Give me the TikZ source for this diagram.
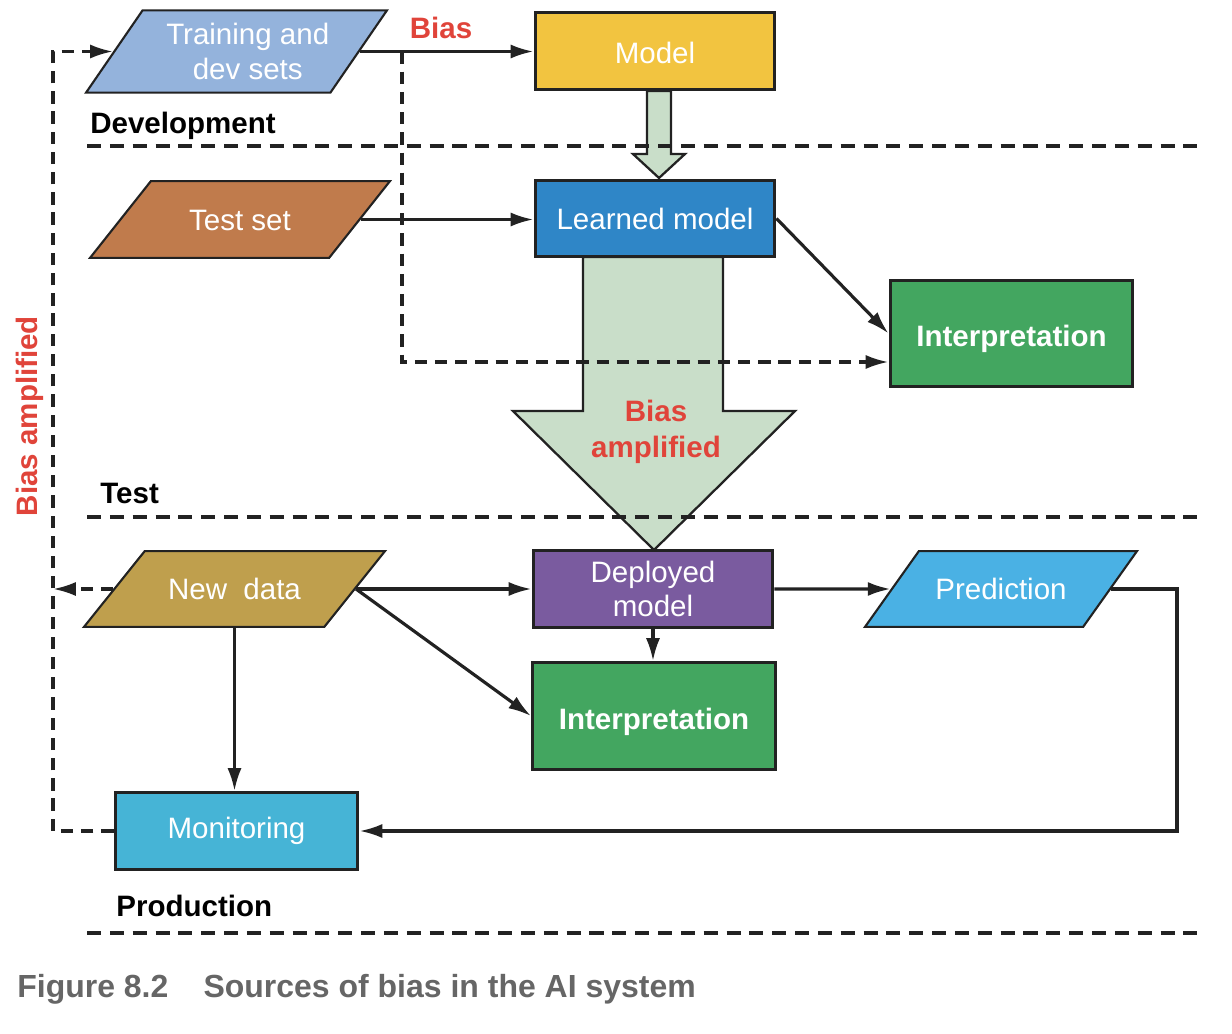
\documentclass[tikz,border=0pt]{standalone}
\usepackage{fontspec}
\setmainfont{Liberation Sans}
\usetikzlibrary{shapes.geometric,arrows.meta,backgrounds}

\definecolor{cTrain}{HTML}{94B3DC}
\definecolor{cTest}{HTML}{C07B4C}
\definecolor{cModel}{HTML}{F2C440}
\definecolor{cLearned}{HTML}{2F86C7}
\definecolor{cInterp}{HTML}{43A660}
\definecolor{cDeployed}{HTML}{7A5B9F}
\definecolor{cPredict}{HTML}{4AB1E4}
\definecolor{cNew}{HTML}{BF9F4D}
\definecolor{cMonitor}{HTML}{46B4D6}
\definecolor{cArrow}{HTML}{C9DEC9}
\definecolor{cRed}{HTML}{E0443A}
\definecolor{cCaption}{HTML}{666666}
\definecolor{cLine}{HTML}{222222}

\begin{document}
\begin{tikzpicture}
        [x=0.02cm, y=-0.02cm,
        box/.style={draw=cLine, line width=1.7pt, minimum width=4.8cm, minimum height=1.54cm,
          inner sep=0pt, text=white, align=center, font=\fontsize{16.8}{19.5}\selectfont},
        interp/.style={box, fill=cInterp, minimum width=4.86cm, minimum height=2.14cm,
          text height=15pt, text depth=0pt,
          font=\bfseries\fontsize{16.8}{19.5}\selectfont},
        data/.style={trapezium, trapezium left angle=55, trapezium right angle=125,
          trapezium stretches body, draw=cLine, line width=1.2pt, minimum width=6.02cm,
          inner xsep=0pt, inner ysep=15.3pt, text height=12.5pt, text depth=0pt,
          text=white, align=center, font=\fontsize{16.8}{19.5}\selectfont},
        conn/.style={cLine, line width=1.8pt, -{Latex[length=13pt,width=8pt]}},
        dconn/.style={conn, line width=1.8pt, dash pattern=on 7pt off 4.5pt},
        sep/.style={cLine, line width=1.8pt, dash pattern=on 8pt off 5pt},
        blockarrow/.style={fill=cArrow, draw=cLine, line width=1.3pt, line join=miter},
        lbl/.style={anchor=west, inner sep=0pt, font=\bfseries\fontsize{16.8}{19.5}\selectfont},
        redlbl/.style={inner sep=0pt, text=cRed, align=center,
          font=\bfseries\fontsize{16.8}{20.4}\selectfont}]

        \useasboundingbox (0,0) rectangle (1232,1034);

        % process boxes
        \node[box, fill=cModel, text height=14pt, text depth=0pt] (model) at (655,51) {Model};
        \node[box, fill=cLearned] (learned) at (655,218.5) {Learned model};
        \node[interp] (interp1) at (1011.5,333.5) {Interpretation};
        \node[box, fill=cDeployed] (deployed) at (653,589) {Deployed\\model};
        \node[interp] (interp2) at (654,716) {Interpretation};
        \node[box, fill=cMonitor, minimum width=4.86cm] (monitor) at (236.5,831) {Monitoring};

        % data sets
        \node[data, fill=cTrain, trapezium left angle=55.5, trapezium right angle=124.5,
          text height={}, text depth={}, inner ysep=7.5pt] (trainset) at (236.5,51.5)
          {\hspace*{0.45cm}Training and\\\hspace*{0.45cm}dev sets};
        \node[data, fill=cTest, trapezium left angle=51.6, trapezium right angle=128.4,
          minimum width=6cm, inner ysep=15.6pt] (testset) at (240,219.5) {Test set};
        \node[data, fill=cNew, trapezium left angle=51.3, trapezium right angle=128.7]
          (newdata) at (234.5,589) {New\ \ data};
        \node[data, fill=cPredict, trapezium left angle=54.6, trapezium right angle=125.4,
          minimum width=5.44cm] (predict) at (1001,589) {Prediction};

        % block arrows
        \begin{scope}[on background layer]
        \filldraw[blockarrow] (647,91) -- (647,154) -- (633,154) -- (659,178)
          -- (685,154) -- (671,154) -- (671,91) -- cycle;
        \filldraw[blockarrow] (583,257) -- (583,411) -- (513,411) -- (654,550)
          -- (795,411) -- (723,411) -- (723,257) -- cycle;
        \end{scope}

        % stage separators
        \draw[sep] (87,146) -- (1200,146);
        \draw[sep] (87,517) -- (1200,517);
        \draw[sep] (87,933) -- (1200,933);

        % labels
        \node[lbl] (devlbl) at (90,126) {Development};
        \node[lbl] (testlbl) at (100,493) {Test};
        \node[lbl] (prodlbl) at (116,906) {Production};
        \node[redlbl] (bias) at (441,28) {Bias};
        \node[redlbl] (amplified) at (656,432) {Bias\\amplified};
        \node[redlbl, rotate=90] (loopbias) at (30,416) {Bias amplified};
        \node[anchor=base west, inner sep=0pt, text=cCaption,
          font=\bfseries\fontsize{18.2}{20}\selectfont] (caption) at (17,997)
          {Figure 8.2\hspace{1.1em}Sources of bias in the AI system};

        \coordinate (split) at (402,362);
        \coordinate (loop) at (53,831);
        \coordinate (back) at (1177,831);

        % connectors
        \draw[conn] (trainset.east) -- (trainset.east -| model.west);
        \draw[dconn] (trainset.east -| split) -- (split) -- (interp1.west |- split);
        \draw[conn] (testset.east) -- (testset.east -| learned.west);
        \draw[conn] (learned.east) -- (interp1.west);
        \draw[conn] (newdata.east) -- (newdata.east -| deployed.west);
        \draw[conn] (newdata.east) -- (interp2.west);
        \draw[conn] (newdata.south) -- (newdata.south |- monitor.north);
        \draw[conn] (deployed.south) -- (deployed.south |- interp2.north);
        \draw[conn] (deployed.east) -- (predict.west);
        \draw[conn] (predict.east) -| (back) -- (monitor.east);
        % feedback loop
        \draw[dconn] (monitor.west) -- (loop) |- (trainset.west);
        \draw[dconn] (newdata.west) -- (newdata.west -| loop);

        \end{tikzpicture}
\end{document}
